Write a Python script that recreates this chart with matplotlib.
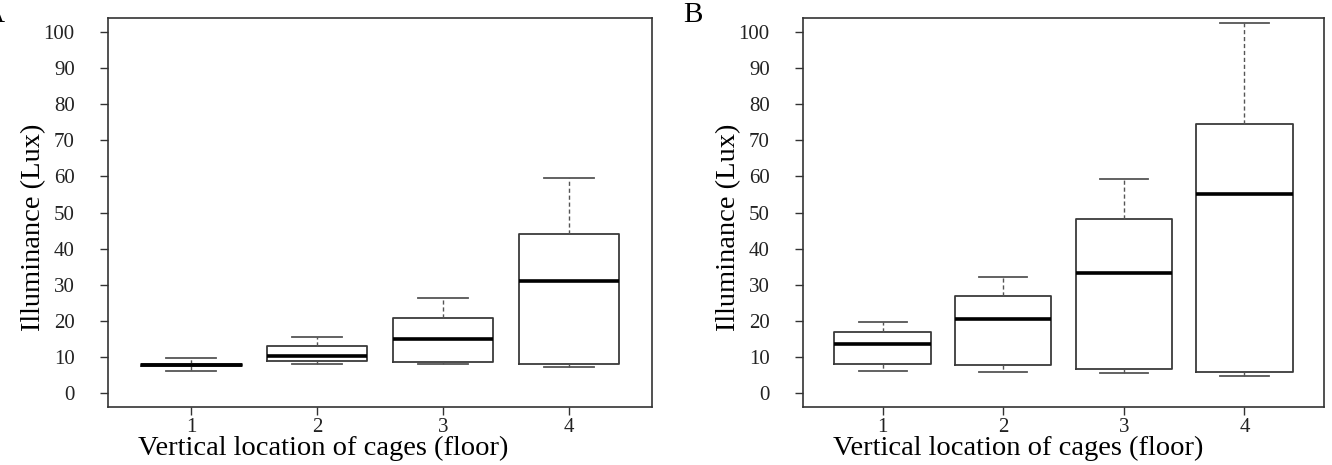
import numpy as np
import matplotlib.pyplot as plt

# Illuminance per floor (Lux)
floors = [1, 2, 3, 4]

# Panel A
a_whislo = [6.0, 7.9, 7.9, 7.2]
a_q1 = [7.4, 8.8, 8.5, 7.9]
a_med = [7.7, 10.1, 15.0, 31.1]
a_q3 = [8.0, 13.0, 20.8, 44.1]
a_whishi = [9.6, 15.4, 26.4, 59.7]

# Panel B
b_whislo = [6.0, 5.7, 5.4, 4.6]
b_q1 = [7.9, 7.6, 6.5, 5.6]
b_med = [13.6, 20.4, 33.2, 55.0]
b_q3 = [16.7, 26.7, 48.1, 74.7]
b_whishi = [19.7, 32.2, 59.3, 102.6]

y_ticks = [0, 10, 20, 30, 40, 50, 60, 70, 80, 90, 100]

plt.rcParams['font.family'] = ['Liberation Serif', 'DejaVu Serif']

fig = plt.figure(figsize=(13.32, 4.65), dpi=100)
ax_a = fig.add_axes([0.0811, 0.1247, 0.4084, 0.8366])
ax_b = fig.add_axes([0.6029, 0.1247, 0.3911, 0.8366])


def dibujar(ax, wlo, q1, med, q3, whi, letra, letra_x, xlab_x):
    stats = []
    for i in range(len(floors)):
        stats.append(dict(whislo=wlo[i], q1=q1[i], med=med[i], q3=q3[i],
                          whishi=whi[i], fliers=[]))
    ax.bxp(stats, positions=floors, widths=0.8, showfliers=False,
           boxprops=dict(color='#3a3a3a', linewidth=1.3),
           whiskerprops=dict(color='#555555', linewidth=1.0, linestyle=(0, (3, 2))),
           capprops=dict(color='#555555', linewidth=1.3),
           medianprops=dict(color='black', linewidth=2.6),
           manage_ticks=False)
    ax.set_xlim(0.34, 4.66)
    ax.set_ylim(-4, 104)
    ax.set_xticks(floors)
    ax.set_xticklabels([str(f) for f in floors])
    ax.set_yticks(y_ticks)
    ax.tick_params(axis='both', labelsize=15, length=6, width=1.0, color='#333333',
                   labelcolor='#222222')
    ax.tick_params(axis='x', pad=2)
    ax.tick_params(axis='y', pad=18)
    for s in ax.spines.values():
        s.set_color('#333333')
        s.set_linewidth(1.2)
    ax.set_xlabel('Vertical location of cages (floor)', fontsize=20.5, labelpad=-1)
    ax.set_ylabel('Illuminance (Lux)', fontsize=20.5, labelpad=-2)
    # las etiquetas del original no estan centradas en el panel
    ax.xaxis.label.set_x(xlab_x)
    ax.yaxis.label.set_y(0.463)
    fig.text(letra_x, 0.995, letra, fontsize=21, va='top', ha='left')


dibujar(ax_a, a_whislo, a_q1, a_med, a_q3, a_whishi, 'A', -0.012, 0.395)
dibujar(ax_b, b_whislo, b_q1, b_med, b_q3, b_whishi, 'B', 0.513, 0.413)

fig.savefig('out.png', dpi=100)
